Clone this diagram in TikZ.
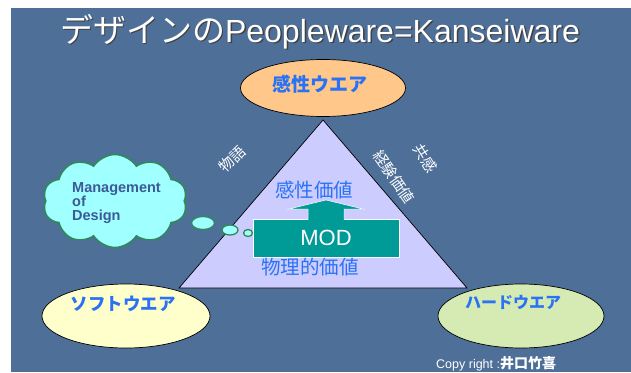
\documentclass[tikz,border=0pt]{standalone}
\usepackage{fontspec}
\setmainfont{Liberation Sans}
\newfontfamily\jp{Noto Sans CJK JP}
\usetikzlibrary{shapes.geometric,shapes.symbols}
\definecolor{bgblue}{HTML}{4E6F98}
\definecolor{lav}{HTML}{CCCCFF}
\definecolor{peach}{HTML}{FFC88A}
\definecolor{lyellow}{HTML}{FFFFCC}
\definecolor{lgreen}{HTML}{D6EBB3}
\definecolor{teal}{HTML}{009B96}
\definecolor{lblue}{HTML}{2A72F5}
\definecolor{cloudcyan}{HTML}{A0FFFF}
\definecolor{cloudgreen}{HTML}{2E8B57}
\definecolor{cloudtext}{HTML}{3C5A96}
\tikzset{
  oval/.style={ellipse, draw=black, line width=0.7pt, inner sep=0pt},
  ovtext/.style={text=lblue, font=\jp\bfseries\fontsize{17}{19}\selectfont, inner sep=0pt},
  valtext/.style={text=lblue, font=\jp\fontsize{19.5}{21}\selectfont, inner sep=0pt},
  sidetext/.style={text=white, font=\jp\fontsize{15}{16}\selectfont, inner sep=0pt},
  bubble/.style={ellipse, draw=cloudgreen, fill=cloudcyan, line width=1.3pt, inner sep=0pt},
}
\begin{document}
\begin{tikzpicture}[x=1pt,y=-1pt]
\useasboundingbox (0,0) rectangle (631,372);
\fill[white] (0,0) rectangle (631,372);
\fill[bgblue] (11,8) rectangle (631,372);
% title
\node[anchor=base, text=black!75, font=\fontsize{32}{36}\selectfont, inner sep=0pt] (titleshadow) at (321.5,43.5) {{\jp\fontsize{33}{36}\selectfont デザインの}Peopleware=Kanseiware};
\node[anchor=base, text=white, font=\fontsize{32}{36}\selectfont, inner sep=0pt] (title) at (320,42) {{\jp\fontsize{33}{36}\selectfont デザインの}Peopleware=Kanseiware};
% triangle
\coordinate (apex) at (323,120);
\coordinate (bl) at (179,288);
\coordinate (br) at (467,288);
\draw[fill=lav, line width=0.7pt] (apex) -- (bl) -- (br) -- cycle;
% ellipses
\node[oval, fill=peach, minimum width=165, minimum height=57] (kansei) at (323,88) {};
\node[ovtext, font=\jp\bfseries\fontsize{19}{21}\selectfont] (kanseiT) at (320,84) {感性ウエア};
\node[oval, fill=lyellow, minimum width=168, minimum height=64] (soft) at (126,316) {};
\node[ovtext, font=\jp\bfseries\fontsize{17.5}{19}\selectfont] (softT) at (123,304) {ソフトウエア};
\node[oval, fill=lgreen, minimum width=166, minimum height=64] (hard) at (521,316) {};
\node[ovtext, font=\jp\bfseries\fontsize{16}{18}\selectfont] (hardT) at (513,302) {ハードウエア};
% MOD box and arrow
\node[draw=white, line width=0.6pt, fill=teal, minimum width=146, minimum height=38, inner sep=0pt,
      text=white, font=\fontsize{22}{24}\selectfont] (mod) at (326,238) {MOD};
\fill[teal] (308,220) -- (308,209) -- (289,209) -- (326,200) -- (363,209) -- (344,209) -- (344,220) -- cycle;
\draw[white, line width=0.5pt] (308,219.5) -- (308,209) -- (289,209) -- (326,200) -- (363,209) -- (344,209) -- (344,219.5);
\node[valtext] (kval) at (314,190) {感性価値};
\node[valtext] (pval) at (310,267) {物理的価値};
% side labels
\node[sidetext, rotate=45] (story) at (232,159) {物語};
\node[sidetext, rotate=-55] (exp) at (394,177) {経験価値};
\node[sidetext, rotate=-58] (sym) at (425,158) {共感};
% cloud
\node[cloud, cloud puffs=10, cloud puff arc=115, aspect=1.5, draw=cloudgreen, line width=1.5pt,
      fill=cloudcyan, minimum width=144, minimum height=93, inner sep=0pt] (cloud) at (115,201) {};
\node[anchor=base west, align=left, text=cloudtext, inner sep=0pt,
      font=\bfseries\fontsize{14.5}{14}\selectfont] (cloudT) at (72,220) {Management\\of\\Design};
\node[bubble, minimum width=23, minimum height=13] (b1) at (203,223) {};
\node[bubble, minimum width=16, minimum height=10] (b2) at (230,230) {};
\node[bubble, minimum width=9, minimum height=7] (b3) at (248,233) {};
% copyright
\node[anchor=base west, text=white, inner sep=0pt, font=\fontsize{12.5}{14}\selectfont] (copy) at (436,368)
  {Copy right :{\jp\bfseries\fontsize{14}{15}\selectfont 井口竹喜}};
\end{tikzpicture}
\end{document}
